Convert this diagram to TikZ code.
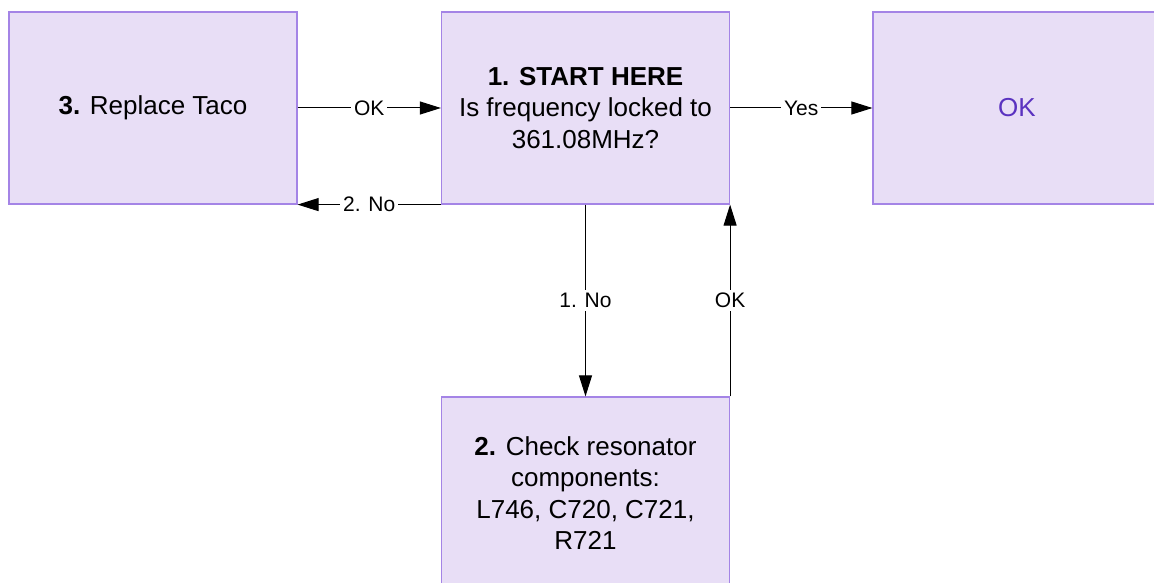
\documentclass[tikz,border=0pt]{standalone}
\usepackage{fontspec}
\setmainfont{Liberation Sans}
\usetikzlibrary{arrows.meta}
\definecolor{boxfill}{HTML}{E8DEF6}
\definecolor{boxline}{HTML}{A484E6}
\definecolor{oktext}{HTML}{5A32C0}
\tikzset{
  box/.style={draw=boxline, fill=boxfill, line width=1.2pt, inner sep=0pt,
    minimum width=288pt, minimum height=192pt, align=center,
    font=\fontsize{26}{31.5}\selectfont},
  arr/.style={line width=1pt, -{Triangle[length=21pt,width=13pt]}},
  lbl/.style={fill=white, inner sep=3pt, font=\fontsize{21}{25}\selectfont}
}
\begin{document}
\begin{tikzpicture}[x=1pt,y=-1pt]
\useasboundingbox (0,0) rectangle (1154,583);
\clip (0,0) rectangle (1154,583);
\fill[white] (0,0) rectangle (1154,583);
\node[box] (taco) at (153,108) {\textbf{3.} Replace Taco};
\node[box] (start) at (585.5,108) {\textbf{1. START HERE}\\Is frequency locked to\\361.08MHz?};
\node[box, text=oktext] (ok) at (1017,108) {OK};
\node[box] (check) at (585.5,493) {\textbf{2.} Check resonator\\components:\\L746, C720, C721,\\R721};
\draw[arr] (taco.east) -- node[lbl] {OK} (start.west);
\draw[arr] (start.east) -- node[lbl] {Yes} (ok.west);
\draw[arr] (start.south west) -- node[lbl] {2. No} (taco.south east);
\draw[arr] (start.south) -- node[lbl] {1. No} (check.north);
\draw[arr] (check.north east) -- node[lbl] {OK} (start.south east);
\end{tikzpicture}
\end{document}
